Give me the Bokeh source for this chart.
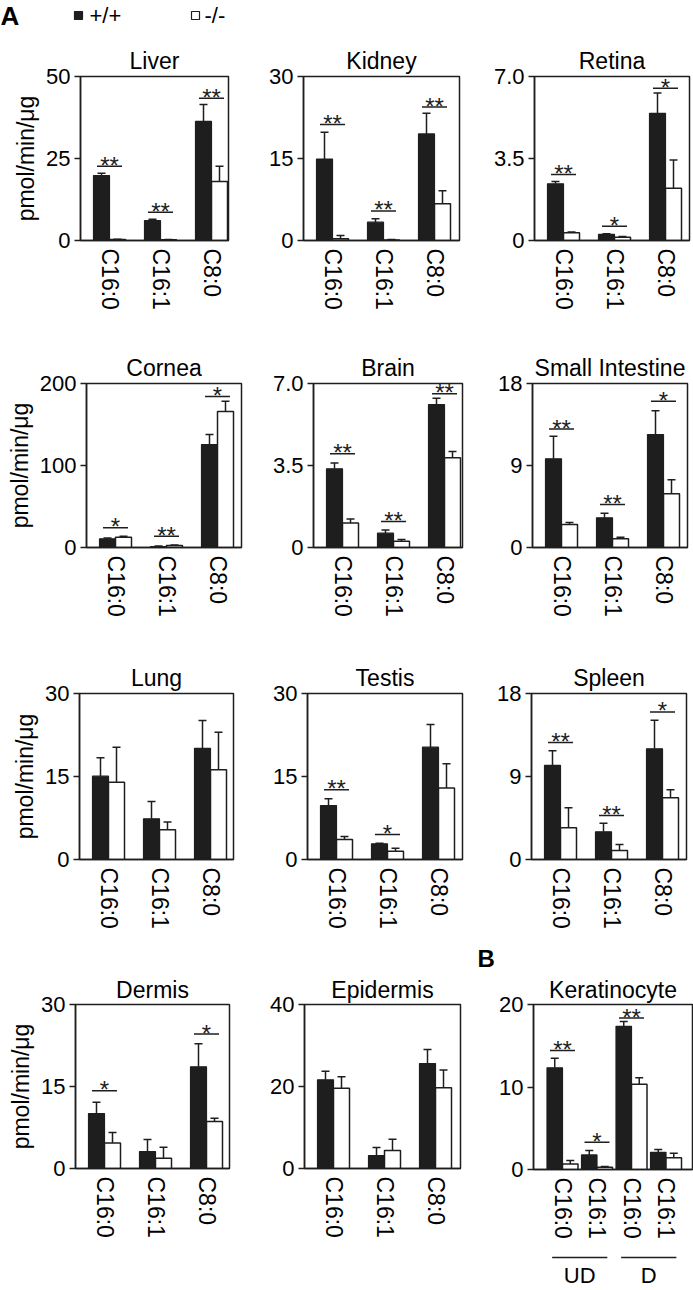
import math
from bokeh.plotting import figure
from bokeh.layouts import column, row
from bokeh.models import Range1d, FixedTicker
from bokeh.core.properties import value
from bokeh.embed import file_html
from bokeh.resources import INLINE

FONT = "Liberation Sans"
DARK = "#1e1e1e"

CATS3 = ["C16:0", "C16:1", "C8:0"]
GENOTYPES = ["+/+", "-/-"]

liver_wt = [19.8, 6.1, 36.3]
liver_wt_err = [0.7, 0.4, 5.2]
liver_ko = [0.3, 0.2, 18.0]
liver_ko_err = [0.1, 0.1, 4.6]
liver_sig = ["**", "**", "**"]
liver_sig_y = [22.6, 8.6, 43.4]
liver_ticks = [0, 25, 50]
liver_tick_labels = ["0", "25", "50"]

kidney_wt = [14.9, 3.35, 19.5]
kidney_wt_err = [4.9, 0.65, 3.8]
kidney_ko = [0.3, 0.1, 6.7]
kidney_ko_err = [0.6, 0.1, 2.4]
kidney_sig = ["**", "**", "**"]
kidney_sig_y = [21.2, 5.4, 24.4]
kidney_ticks = [0, 15, 30]
kidney_tick_labels = ["0", "15", "30"]

retina_wt = [2.42, 0.26, 5.43]
retina_wt_err = [0.10, 0.03, 0.87]
retina_ko = [0.33, 0.14, 2.23]
retina_ko_err = [0.03, 0.03, 1.21]
retina_sig = ["**", "*", "*"]
retina_sig_y = [2.82, 0.61, 6.5]
retina_ticks = [0, 3.5, 7.0]
retina_tick_labels = ["0", "3.5", "7.0"]

cornea_wt = [10.6, 1.2, 125.6]
cornea_wt_err = [0.9, 0.5, 12.2]
cornea_ko = [12.6, 2.4, 165.9]
cornea_ko_err = [1.2, 0.6, 12.5]
cornea_sig = ["*", "**", "*"]
cornea_sig_y = [24.0, 13.8, 184.0]
cornea_ticks = [0, 100, 200]
cornea_tick_labels = ["0", "100", "200"]

brain_wt = [3.36, 0.61, 6.10]
brain_wt_err = [0.25, 0.14, 0.27]
brain_ko = [1.05, 0.27, 3.83]
brain_ko_err = [0.17, 0.07, 0.27]
brain_sig = ["**", "**", "**"]
brain_sig_y = [4.0, 1.11, 6.56]
brain_ticks = [0, 3.5, 7.0]
brain_tick_labels = ["0", "3.5", "7.0"]

si_wt = [9.73, 3.26, 12.4]
si_wt_err = [2.47, 0.51, 2.6]
si_ko = [2.52, 0.95, 5.9]
si_ko_err = [0.22, 0.18, 1.53]
si_sig = ["**", "**", "*"]
si_sig_y = [13.0, 4.72, 16.06]
si_ticks = [0, 9, 18]
si_tick_labels = ["0", "9", "18"]

lung_wt = [15.06, 7.35, 20.1]
lung_wt_err = [3.34, 3.15, 5.0]
lung_ko = [13.98, 5.36, 16.2]
lung_ko_err = [6.3, 1.4, 6.8]
lung_sig = ["", "", ""]
lung_sig_y = [0, 0, 0]
lung_ticks = [0, 15, 30]
lung_tick_labels = ["0", "15", "30"]

testis_wt = [9.76, 2.83, 20.3]
testis_wt_err = [1.21, 0.12, 4.1]
testis_ko = [3.61, 1.51, 12.9]
testis_ko_err = [0.55, 0.54, 4.4]
testis_sig = ["**", "*", ""]
testis_sig_y = [12.6, 4.5, 0]
testis_ticks = [0, 15, 30]
testis_tick_labels = ["0", "15", "30"]

spleen_wt = [10.2, 3.0, 12.0]
spleen_wt_err = [1.6, 0.94, 3.1]
spleen_ko = [3.43, 0.98, 6.69]
spleen_ko_err = [2.17, 0.65, 0.87]
spleen_sig = ["**", "**", "*"]
spleen_sig_y = [12.7, 4.77, 16.0]
spleen_ticks = [0, 9, 18]
spleen_tick_labels = ["0", "9", "18"]

dermis_wt = [10.06, 3.1, 18.6]
dermis_wt_err = [2.04, 2.2, 4.2]
dermis_ko = [4.67, 1.88, 8.6]
dermis_ko_err = [1.93, 2.0, 0.6]
dermis_sig = ["*", "", "*"]
dermis_sig_y = [14.2, 0, 24.6]
dermis_ticks = [0, 15, 30]
dermis_tick_labels = ["0", "15", "30"]

epi_wt = [21.65, 3.15, 25.6]
epi_wt_err = [2.1, 2.0, 3.4]
epi_ko = [19.56, 4.36, 19.7]
epi_ko_err = [2.8, 2.8, 4.3]
epi_sig = ["", "", ""]
epi_sig_y = [0, 0, 0]
epi_ticks = [0, 20, 40]
epi_tick_labels = ["0", "20", "40"]

kera_cats = ["C16:0", "C16:1", "C16:0", "C16:1"]
kera_groups = ["UD", "D"]
kera_group_members = [[0, 1], [2, 3]]
kera_wt = [12.33, 1.77, 17.35, 2.08]
kera_wt_err = [1.17, 0.52, 0.6, 0.33]
kera_ko = [0.68, 0.28, 10.32, 1.41]
kera_ko_err = [0.4, 0.07, 0.8, 0.55]
kera_sig = ["**", "*", "**", ""]
kera_sig_y = [14.42, 3.29, 18.35, 0]
kera_ticks = [0, 10, 20]
kera_tick_labels = ["0", "10", "20"]

YLABEL = "pmol/min/\u03bcg"


def panel(title, cats, wt, wt_err, ko, ko_err, sig, sig_y, ticks, tick_labels,
          width, height, bl, br, bt, bb, ylabel=None, pxu=51.0, bar_px=16.0,
          title_standoff=6):
    fw = width - bl - br
    x0 = -29.0 / pxu
    x_range = Range1d(x0, x0 + fw / pxu)
    p = figure(width=width, height=height, x_range=x_range,
               y_range=Range1d(0, ticks[-1]), output_backend="svg",
               toolbar_location=None, min_border_left=bl, min_border_right=br,
               min_border_top=bt, min_border_bottom=bb, title=title)
    p.grid.visible = False
    p.outline_line_color = DARK
    p.outline_line_width = 1.5
    p.outline_line_alpha = 1.0
    p.background_fill_color = "white"
    p.border_fill_color = "white"
    p.title.text_font = FONT
    p.title.text_font_size = "23px"
    p.title.text_font_style = "normal"
    p.title.text_color = "black"
    p.title.align = "center"
    p.title.standoff = title_standoff

    n = len(cats)
    xs = list(range(n))
    bw = bar_px / pxu
    xb = [x - bw / 2 for x in xs]
    xw = [x + bw / 2 for x in xs]
    p.vbar(x=xb, top=wt, bottom=0, width=bw, fill_color=DARK, line_color=DARK, line_width=1.2)
    p.vbar(x=xw, top=ko, bottom=0, width=bw, fill_color="white", line_color=DARK, line_width=1.5)
    ch = 4.0 / pxu
    for xx, tops, errs in ((xb, wt, wt_err), (xw, ko, ko_err)):
        ends = [t + e for t, e in zip(tops, errs)]
        p.segment(x0=xx, y0=tops, x1=xx, y1=ends, line_color=DARK, line_width=1.5)
        p.segment(x0=[x - ch for x in xx], y0=ends, x1=[x + ch for x in xx], y1=ends,
                  line_color=DARK, line_width=1.5)
    sx = [xs[i] for i in range(n) if sig[i]]
    sy = [sig_y[i] for i in range(n) if sig[i]]
    st = [sig[i] for i in range(n) if sig[i]]
    if sx:
        half = 12.5 / pxu
        p.segment(x0=[x - half for x in sx], y0=sy, x1=[x + half for x in sx], y1=sy,
                  line_color=DARK, line_width=1.5)
        p.text(x=sx, y=sy, text=st, text_align="center", text_baseline="middle",
               y_offset=-1, text_font=value(FONT), text_font_size="24px", text_color=DARK)

    xa = p.xaxis[0]
    xa.ticker = FixedTicker(ticks=xs)
    xa.major_label_overrides = {i: c for i, c in enumerate(cats)}
    xa.major_tick_line_color = None
    xa.minor_tick_line_color = None
    xa.major_tick_out = 0
    xa.major_tick_in = 0
    xa.major_label_standoff = 8
    xa.major_label_orientation = -math.pi / 2
    xa.major_label_text_font = FONT
    xa.major_label_text_font_size = "23px"
    xa.major_label_text_color = "black"
    xa.axis_line_color = DARK
    xa.axis_line_width = 1.5

    ya = p.yaxis[0]
    ya.ticker = FixedTicker(ticks=ticks)
    ya.major_label_overrides = {t: l for t, l in zip(ticks, tick_labels)}
    ya.minor_tick_line_color = None
    ya.major_tick_in = 0
    ya.major_tick_out = 6
    ya.major_tick_line_color = DARK
    ya.major_tick_line_width = 1.5
    ya.major_label_standoff = 4
    ya.major_label_text_font = FONT
    ya.major_label_text_font_size = "22px"
    ya.major_label_text_color = "black"
    ya.axis_line_color = DARK
    ya.axis_line_width = 1.5
    if ylabel:
        ya.axis_label = ylabel
        ya.axis_label_text_font = FONT
        ya.axis_label_text_font_size = "23px"
        ya.axis_label_text_font_style = "normal"
        ya.axis_label_text_color = "black"
        ya.axis_label_standoff = 4
    return p


def text_strip(width, height, bl=0, br=0, x_range=None):
    p = figure(width=width, height=height,
               x_range=x_range if x_range is not None else Range1d(0, width),
               y_range=Range1d(height, 0), output_backend="svg", toolbar_location=None,
               min_border_left=bl, min_border_right=br, min_border_top=0, min_border_bottom=0,
               x_axis_location=None, y_axis_location=None)
    p.grid.visible = False
    p.outline_line_color = None
    p.border_fill_color = "white"
    return p


W1, W2, W3 = 250, 222, 221
WT = W1 + W2 + W3

# header: panel letter A and legend
header = text_strip(WT, 40)
header.text(x=[0], y=[15], text=["A"], text_font=value(FONT), text_font_size="26px",
            text_font_style="bold", text_color="black", text_baseline="middle")
header.scatter(x=[78, 195], y=[15, 15], marker="square", size=8,
               fill_color=[DARK, "white"], line_color=DARK, line_width=1.2)
header.text(x=[89, 204], y=[15, 15], text=GENOTYPES, text_font=value(FONT),
            text_font_size="22px", text_color="black", text_baseline="middle")

# row 1
p_liver = panel("Liver", CATS3, liver_wt, liver_wt_err, liver_ko, liver_ko_err, liver_sig,
                liver_sig_y, liver_ticks, liver_tick_labels, W1, 290, 80, 22, 36, 90, YLABEL)
p_kidney = panel("Kidney", CATS3, kidney_wt, kidney_wt_err, kidney_ko, kidney_ko_err, kidney_sig,
                 kidney_sig_y, kidney_ticks, kidney_tick_labels, W2, 290, 53, 13, 36, 90)
p_retina = panel("Retina", CATS3, retina_wt, retina_wt_err, retina_ko, retina_ko_err, retina_sig,
                 retina_sig_y, retina_ticks, retina_tick_labels, W3, 290, 62, 4, 36, 90)
# row 2
p_cornea = panel("Cornea", CATS3, cornea_wt, cornea_wt_err, cornea_ko, cornea_ko_err, cornea_sig,
                 cornea_sig_y, cornea_ticks, cornea_tick_labels, W1, 310, 86, 9, 53, 93, YLABEL)
p_brain = panel("Brain", CATS3, brain_wt, brain_wt_err, brain_ko, brain_ko_err, brain_sig,
                brain_sig_y, brain_ticks, brain_tick_labels, W2, 310, 63, 10, 53, 93)
p_si = panel("Small Intestine", CATS3, si_wt, si_wt_err, si_ko, si_ko_err, si_sig,
             si_sig_y, si_ticks, si_tick_labels, W3, 310, 60, 6, 53, 93)
# row 3
p_lung = panel("Lung", CATS3, lung_wt, lung_wt_err, lung_ko, lung_ko_err, lung_sig,
               lung_sig_y, lung_ticks, lung_tick_labels, W1, 299, 79, 17, 53, 80, YLABEL)
p_testis = panel("Testis", CATS3, testis_wt, testis_wt_err, testis_ko, testis_ko_err, testis_sig,
                 testis_sig_y, testis_ticks, testis_tick_labels, W2, 299, 57, 10, 53, 80)
p_spleen = panel("Spleen", CATS3, spleen_wt, spleen_wt_err, spleen_ko, spleen_ko_err, spleen_sig,
                 spleen_sig_y, spleen_ticks, spleen_tick_labels, W3, 299, 59, 7, 53, 80)

# strip with panel letter B
b_strip = text_strip(WT, 33)
b_strip.text(x=[477], y=[19], text=["B"], text_font=value(FONT), text_font_size="24px",
             text_font_style="bold", text_color="black", text_baseline="middle")

# row 4
p_dermis = panel("Dermis", CATS3, dermis_wt, dermis_wt_err, dermis_ko, dermis_ko_err, dermis_sig,
                 dermis_sig_y, dermis_ticks, dermis_tick_labels, W1, 317, 75, 21, 31, 121, YLABEL,
                 title_standoff=4)
p_epi = panel("Epidermis", CATS3, epi_wt, epi_wt_err, epi_ko, epi_ko_err, epi_sig,
              epi_sig_y, epi_ticks, epi_tick_labels, W2, 317, 54, 12, 31, 121,
              title_standoff=4)

KPXU = 34.5
p_kera = panel("Keratinocyte", kera_cats, kera_wt, kera_wt_err, kera_ko, kera_ko_err, kera_sig,
               kera_sig_y, kera_ticks, kera_tick_labels, W3, 278, 61, 1, 31, 81,
               pxu=KPXU, bar_px=15.5, title_standoff=4)

ud = text_strip(W3, 39, bl=61, br=1, x_range=p_kera.x_range)
ext = 0.8
gc = [sum(m) / len(m) for m in kera_group_members]
ud.segment(x0=[c - ext for c in gc], y0=[7, 7], x1=[c + ext for c in gc], y1=[7, 7],
           line_color=DARK, line_width=1.5)
ud.text(x=gc, y=[25, 25], text=kera_groups, text_align="center", text_baseline="middle",
        text_font=value(FONT), text_font_size="22px", text_color="black")

layout = column(
    header,
    row(p_liver, p_kidney, p_retina),
    row(p_cornea, p_brain, p_si),
    row(p_lung, p_testis, p_spleen),
    b_strip,
    row(p_dermis, p_epi, column(p_kera, ud)),
)

open("out.html", "w").write(file_html(layout, INLINE))
